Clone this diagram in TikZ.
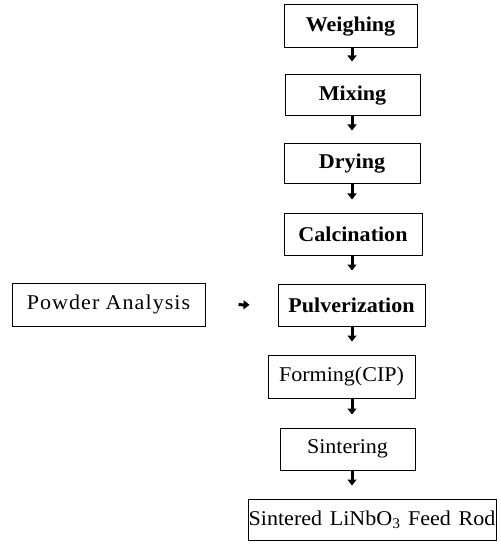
\documentclass[tikz,border=0pt]{standalone}
\usepackage{fontspec}
\setmainfont{Liberation Serif}
\newfontfamily\rf[FakeStretch=1.05]{Liberation Serif}
\newfontfamily\rfw[FakeStretch=1.05,LetterSpace=5]{Liberation Serif}
\usetikzlibrary{arrows.meta}
\tikzset{
  box/.style={draw, line width=1pt, rectangle, inner sep=0pt, font=\rf\fontsize{21}{24}\selectfont},
  bbox/.style={box, font=\rf\bfseries\fontsize{21}{24}\selectfont},
  arr/.style={line width=3pt, -{Triangle[width=9pt,length=6pt]}, shorten >=13pt},
}
\begin{document}
\begin{tikzpicture}[x=1pt,y=-1pt]
\useasboundingbox (0,0) rectangle (500,545);
\node[bbox, minimum width=133pt, minimum height=43pt] (w) at (350.5,26.5) {Weighing};
\node[bbox, minimum width=135pt, minimum height=41pt] (m) at (352.5,95.5) {Mixing};
\node[bbox, minimum width=136pt, minimum height=40pt] (d) at (352,164) {Drying};
\node[bbox, minimum width=138pt, minimum height=42pt] (c) at (353,234) {Calcination};
\node[box, minimum width=193pt, minimum height=43pt, font=\rfw\fontsize{21}{24}\selectfont] (pa) at (108.5,304.5) {Powder\hspace{0.3em}Analysis};
\node[bbox, minimum width=147pt, minimum height=42pt] (p) at (351.5,305) {Pulverization};
\node[box, minimum width=147pt, minimum height=43pt] (f) at (341.5,376.5) {Forming(CIP)};
\node[box, minimum width=135pt, minimum height=42pt] (s) at (347.5,449) {Sintering};
\node[box, minimum width=248pt, minimum height=41pt] (r) at (372,519.5) {Sintered\hspace{0.1em} LiNbO\textsubscript{3}\hspace{0.1em} Feed\hspace{0.1em} Rod};
\coordinate (ax) at (352,0);
\draw[arr] (w.south -| ax) -- (m.north -| ax);
\draw[arr] (m.south -| ax) -- (d.north -| ax);
\draw[arr] (d.south -| ax) -- (c.north -| ax);
\draw[arr] (c.south -| ax) -- (p.north -| ax);
\draw[arr] (p.south -| ax) -- (f.north -| ax);
\draw[arr] (f.south -| ax) -- (s.north -| ax);
\draw[arr] (s.south -| ax) -- (r.north -| ax);
\draw[line width=3pt, -{Triangle[width=9pt,length=6pt]}, shorten <=33pt, shorten >=28pt] (pa.east) -- (p.west);
\end{tikzpicture}
\end{document}
